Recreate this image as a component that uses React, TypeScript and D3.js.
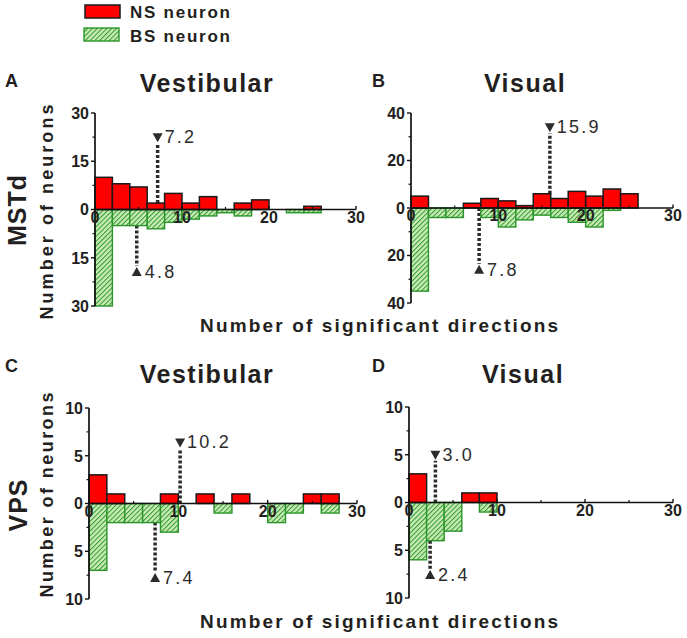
import React from "react";
import * as d3 from "d3";

const binStarts = [0, 2, 4, 6, 8, 10, 12, 14, 16, 18, 20, 22, 24, 26];
const binWidth = 2;

const nsA = [10, 8, 7, 2, 5, 2, 4, 0, 2, 3, 0, 0, 1, 0];
const bsA = [30, 5, 5, 6, 4, 3, 2, 1, 2, 0, 0, 1, 1, 0];
const nsB = [5, 0, 0, 2, 4, 3, 1, 6, 4, 7, 5, 8, 6, 0];
const bsB = [35, 4, 4, 0, 4, 8, 5, 3, 4, 6, 8, 1, 0, 0];
const nsC = [3, 1, 0, 0, 1, 0, 1, 0, 1, 0, 0, 0, 1, 1];
const bsC = [7, 2, 2, 2, 3, 0, 0, 1, 0, 0, 2, 1, 0, 1];
const nsD = [3, 0, 0, 1, 1, 0, 0, 0, 0, 0, 0, 0, 0, 0];
const bsD = [6, 4, 3, 0, 1, 0, 0, 0, 0, 0, 0, 0, 0, 0];

const nsMeans = [7.2, 15.9, 10.2, 3.0];
const bsMeans = [4.8, 7.8, 7.4, 2.4];
const nsMarkerHeights = [22.5, 34, 6.4, 5.0];
const bsMarkerHeights = [19.4, 26, 7.8, 7.6];
const nsMeanLabels = ["7.2", "15.9", "10.2", "3.0"];
const bsMeanLabels = ["4.8", "7.8", "7.4", "2.4"];

const yMaxes = [30, 40, 10, 10];
const yTickSteps = [15, 20, 5, 5];
const xTicks = [0, 10, 20, 30];
const xMinorTicks = [5, 15, 25];
const panelLetters = ["A", "B", "C", "D"];
const panelTitles = ["Vestibular", "Visual", "Vestibular", "Visual"];
const rowLabels = ["MSTd", "VPS"];
const legendLabels = ["NS neuron", "BS neuron"];
const xAxisTitle = "Number of significant directions";
const yAxisTitle = "Number of neurons";

const nsSeries = [nsA, nsB, nsC, nsD];
const bsSeries = [bsA, bsB, bsC, bsD];

const layouts = [
  { x0: 95, x1: 356, yTop: 113, yBot: 306, letterX: 5, letterY: 87, titleX: 207, titleY: 92 },
  { x0: 411, x1: 673, yTop: 113, yBot: 303, letterX: 372, letterY: 87, titleX: 525, titleY: 92 },
  { x0: 89, x1: 357, yTop: 408, yBot: 599, letterX: 5, letterY: 372, titleX: 207, titleY: 383 },
  { x0: 409, x1: 673, yTop: 407, yBot: 598, letterX: 372, letterY: 372, titleX: 523, titleY: 383 },
];

const FONT = "Arial, 'Liberation Sans', sans-serif";
const TXT = "#231f20";
const MARK = "#2b2b2b";

function Panel({ i }: { i: number }) {
  const L = layouts[i];
  const max = yMaxes[i];
  const x = d3.scaleLinear().domain([0, 30]).range([L.x0, L.x1]);
  const y = d3.scaleLinear().domain([-max, max]).range([L.yBot, L.yTop]);
  const ns = nsSeries[i];
  const bs = bsSeries[i];
  const step = yTickSteps[i];
  const majors = d3.range(-max, max + 0.001, step);
  const minors = d3.range(-max + step / 2, max, step);

  const binIdx = (m: number) => Math.min(binStarts.length - 1, Math.floor(m / binWidth));
  const nsM = nsMeans[i];
  const bsM = bsMeans[i];
  const nsStart = ns[binIdx(nsM)];
  const bsStart = bs[binIdx(bsM)];
  const nsH = nsMarkerHeights[i];
  const bsH = -bsMarkerHeights[i];
  const tri = 5;

  return (
    <g>
      <text x={L.letterX} y={L.letterY} fontFamily={FONT} fontWeight="bold" fontSize={18} fill={TXT}>
        {panelLetters[i]}
      </text>
      <text x={L.titleX} y={L.titleY} textAnchor="middle" fontFamily={FONT} fontWeight="bold" fontSize={25} fill={TXT} letterSpacing={1.5}>
        {panelTitles[i]}
      </text>
      <line x1={x(nsM)} x2={x(nsM)} y1={y(nsStart)} y2={y(nsH) + 6} stroke={MARK} strokeWidth={3.5} strokeDasharray="3 2" />
      <line x1={x(bsM)} x2={x(bsM)} y1={y(-bsStart)} y2={y(bsH) - 6} stroke={MARK} strokeWidth={3.5} strokeDasharray="3 2" />
      {binStarts.map((b, k) =>
        bs[k] > 0 ? (
          <rect key={"bs" + k} x={x(b)} y={y(0)} width={x(b + binWidth) - x(b)} height={y(-bs[k]) - y(0)}
            fill="url(#hatch)" stroke="#2a952a" strokeWidth={1.4} />
        ) : null
      )}
      {binStarts.map((b, k) =>
        ns[k] > 0 ? (
          <rect key={"ns" + k} x={x(b)} y={y(ns[k])} width={x(b + binWidth) - x(b)} height={y(0) - y(ns[k])}
            fill="#ff0000" stroke="#1a1a1a" strokeWidth={1.5} />
        ) : null
      )}
      <line x1={L.x0} x2={L.x0} y1={y(max)} y2={y(-max)} stroke="#111" strokeWidth={1.7} />
      <line x1={L.x0} x2={L.x1} y1={y(0)} y2={y(0)} stroke="#111" strokeWidth={1.7} />
      {majors.map((v) => (
        <g key={"yt" + v}>
          <line x1={L.x0 - 4} x2={L.x0} y1={y(v)} y2={y(v)} stroke="#111" strokeWidth={1.4} />
          <text x={L.x0 - 6} y={y(v)} dy="0.36em" textAnchor="end" fontFamily={FONT} fontWeight="bold" fontSize={16} fill={TXT}>
            {Math.abs(v)}
          </text>
        </g>
      ))}
      {minors.map((v) => (
        <line key={"ym" + v} x1={L.x0 - 2.5} x2={L.x0} y1={y(v)} y2={y(v)} stroke="#111" strokeWidth={1.2} />
      ))}
      {xTicks.map((v) => (
        <g key={"xt" + v}>
          <line x1={x(v)} x2={x(v)} y1={y(0)} y2={y(0) - 3.5} stroke="#111" strokeWidth={1.4} />
          <text x={x(v)} y={y(0) + 13} textAnchor="middle" fontFamily={FONT} fontWeight="bold" fontSize={16} fill={TXT}>
            {v}
          </text>
        </g>
      ))}
      {xMinorTicks.map((v) => (
        <line key={"xm" + v} x1={x(v)} x2={x(v)} y1={y(0)} y2={y(0) - 2.5} stroke="#111" strokeWidth={1.2} />
      ))}
      <path d={`M${x(nsM) - tri},${y(nsH) - 4} L${x(nsM) + tri},${y(nsH) - 4} L${x(nsM)},${y(nsH) + 5} Z`} fill={MARK} />
      <text x={x(nsM) + 7} y={y(nsH) + 6} fontFamily={FONT} fontSize={18} fill={MARK} letterSpacing={2.2}>
        {nsMeanLabels[i]}
      </text>
      <path d={`M${x(bsM) - tri},${y(bsH) + 4} L${x(bsM) + tri},${y(bsH) + 4} L${x(bsM)},${y(bsH) - 5} Z`} fill={MARK} />
      <text x={x(bsM) + 8} y={y(bsH) + 6} fontFamily={FONT} fontSize={18} fill={MARK} letterSpacing={2.2}>
        {bsMeanLabels[i]}
      </text>
    </g>
  );
}

export default function App() {
  return (
    <svg width={687} height={638} style={{ position: "absolute", left: 0, top: 0, background: "#fff" }}>
      <defs>
        <pattern id="hatch" patternUnits="userSpaceOnUse" width={3.4} height={3.4} patternTransform="rotate(45)">
          <rect width={3.4} height={3.4} fill="#c8eab4" />
          <line x1={0} y1={0} x2={0} y2={3.4} stroke="#2e9a2e" strokeWidth={2} />
        </pattern>
      </defs>
      <rect x={0} y={0} width={687} height={638} fill="#fff" />
      <rect x={85} y={5} width={35} height={13} fill="#ff0000" stroke="#1a1a1a" strokeWidth={1.5} />
      <text x={130} y={18} fontFamily={FONT} fontWeight="bold" fontSize={17} fill={TXT} textLength={100} lengthAdjust="spacing">
        {legendLabels[0]}
      </text>
      <rect x={84} y={28} width={35} height={13} fill="url(#hatch)" stroke="#2a952a" strokeWidth={1.4} />
      <text x={130} y={42} fontFamily={FONT} fontWeight="bold" fontSize={17} fill={TXT} textLength={100} lengthAdjust="spacing">
        {legendLabels[1]}
      </text>
      {[0, 1, 2, 3].map((i) => (
        <Panel key={i} i={i} />
      ))}
      <text transform="translate(26,210) rotate(-90)" textAnchor="middle" fontFamily={FONT} fontWeight="bold" fontSize={25} fill={TXT} letterSpacing={1}>
        {rowLabels[0]}
      </text>
      <text transform="translate(53,212) rotate(-90)" textAnchor="middle" fontFamily={FONT} fontWeight="bold" fontSize={18} fill={TXT} textLength={215} lengthAdjust="spacing">
        {yAxisTitle}
      </text>
      <text transform="translate(27,505) rotate(-90)" textAnchor="middle" fontFamily={FONT} fontWeight="bold" fontSize={25} fill={TXT} letterSpacing={1}>
        {rowLabels[1]}
      </text>
      <text transform="translate(53,495) rotate(-90)" textAnchor="middle" fontFamily={FONT} fontWeight="bold" fontSize={18} fill={TXT} textLength={205} lengthAdjust="spacing">
        {yAxisTitle}
      </text>
      <text x={200} y={332} fontFamily={FONT} fontWeight="bold" fontSize={19} fill={TXT} textLength={358} lengthAdjust="spacing">
        {xAxisTitle}
      </text>
      <text x={200} y={628} fontFamily={FONT} fontWeight="bold" fontSize={19} fill={TXT} textLength={358} lengthAdjust="spacing">
        {xAxisTitle}
      </text>
    </svg>
  );
}
